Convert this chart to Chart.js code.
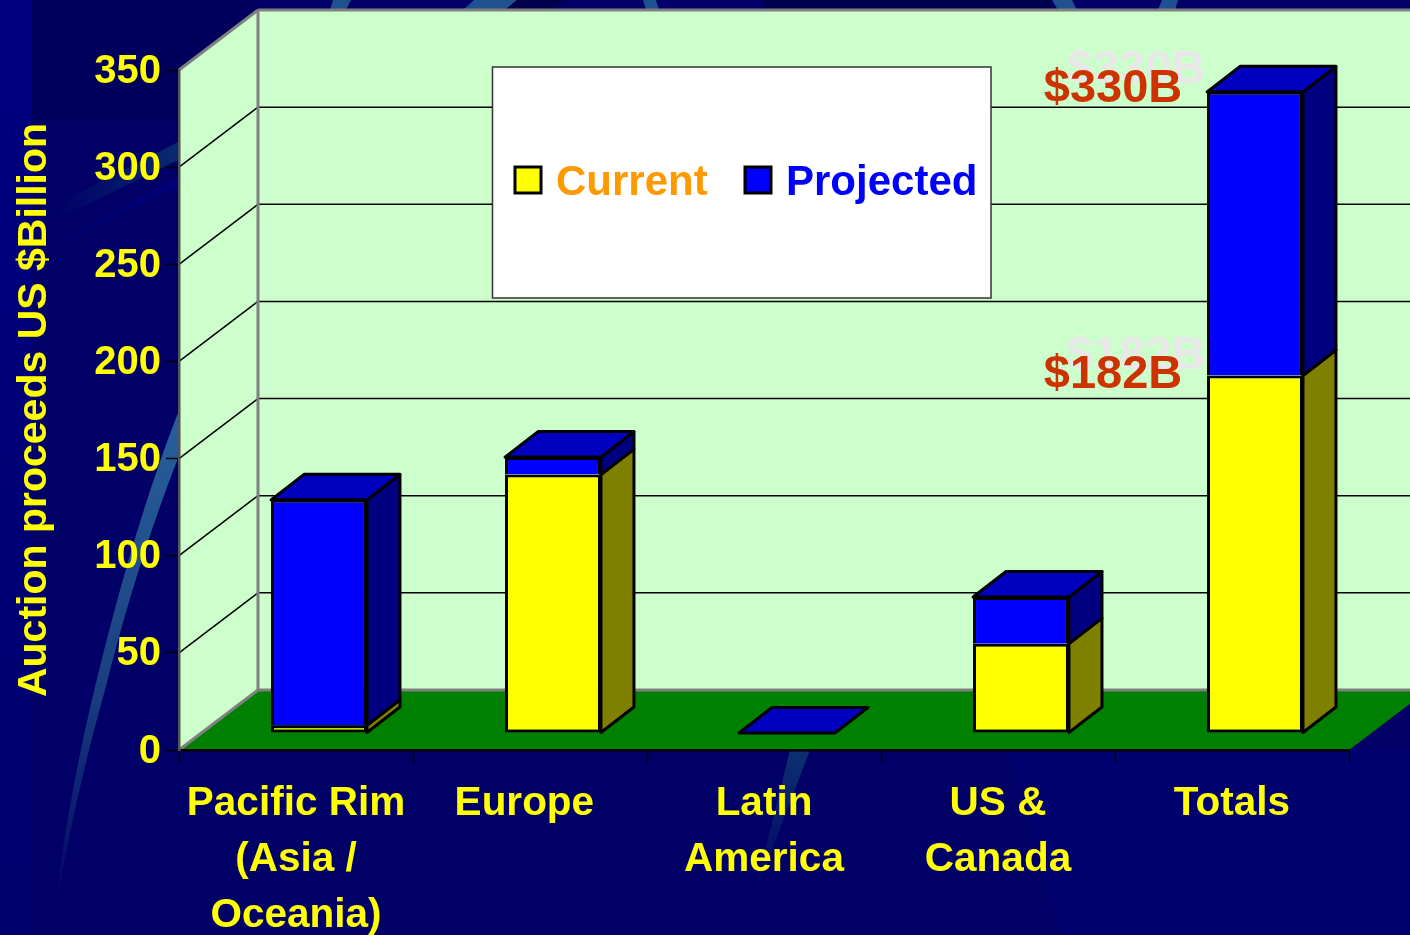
<!DOCTYPE html>
<html>
<head>
<meta charset="utf-8">
<title>Auction proceeds</title>
<script src="https://cdn.jsdelivr.net/npm/chart.js@4/dist/chart.umd.min.js"></script>
<style>
html, body { margin: 0; padding: 0; background: #000066; overflow: hidden; }
#fondo { position: absolute; left: 0; top: 0; }
#grafico { position: absolute; left: 0; top: 0; }
</style>
</head>
<body>
<!-- slide background, decoration only -->
<svg id="fondo" width="1410" height="935">
  <defs>
    <linearGradient id="curva" x1="0" y1="0" x2="0" y2="1">
      <stop offset="0" stop-color="#28609c"/>
      <stop offset="0.55" stop-color="#1a3f80"/>
      <stop offset="1" stop-color="#000066"/>
    </linearGradient>
    <linearGradient id="banda" x1="0" y1="0" x2="1" y2="0">
      <stop offset="0" stop-color="#000066"/>
      <stop offset="1" stop-color="#082a70"/>
    </linearGradient>
    <linearGradient id="abajo" x1="0" y1="0" x2="0" y2="1">
      <stop offset="0" stop-color="#0c3072"/>
      <stop offset="1" stop-color="#000066"/>
    </linearGradient>
    <linearGradient id="franja" x1="0" y1="0" x2="0" y2="1">
      <stop offset="0" stop-color="#000080"/>
      <stop offset="1" stop-color="#00006e"/>
    </linearGradient>
  </defs>
  <rect width="1410" height="935" fill="#000066"/>
  <rect width="32" height="935" fill="url(#franja)"/>
  <rect x="32" width="226" height="120" fill="#00005c"/>
  <rect x="764" width="288" height="10" fill="#000050"/>
  <polygon points="1008,750 1410,750 1410,935 1060,935" fill="#00006e"/>
  <polygon points="55,205 178,142 178,160 55,220" fill="url(#banda)"/>
  <polygon points="60,240 178,178 178,186 62,240" fill="#000078"/>
  <path d="M178,413 C140,510 110,620 85,730 C70,800 60,860 55,915 C65,850 85,760 105,690 C125,610 150,530 178,458 Z" fill="url(#curva)"/>
  <polygon points="333,0 351,0 346,10 330,10" fill="#1f5090"/>
  <polygon points="474,0 517,0 505,10 463,10" fill="#1f5090"/>
  <polygon points="517,0 566,0 550,10 505,10" fill="#00004c"/>
  <polygon points="643,0 656,0 659,10 646,10" fill="#1f5090"/>
  <polygon points="1052,0 1072,0 1077,10 1058,10" fill="#1f5090"/>
  <polygon points="1162,0 1178,0 1175,10 1158,10" fill="#1f5090"/>
  <polygon points="790,750 810,750 753,900" fill="url(#abajo)"/>
</svg>
<canvas id="grafico" width="1410" height="935"></canvas>
<script>
// Datos
const regiones = [['Pacific Rim', '(Asia /', 'Oceania)'], 'Europe ', ['Latin', 'America'], ['US &', 'Canada'], 'Totals'];
const actual = [4, 133, 0, 46, 184];
const proyectado = [116, 9, 0, 24, 146];
const nombresSeries = ['Current', 'Projected'];
const coloresLeyenda = ['#FF9900', '#0000FF'];
const textosTotales = ['$182B', '$330B'];

const AMARILLO = '#FFFF00';
const AZUL = '#0000FF';
const LATERALES = ['#808000', '#000080'];
const TECHO = '#0000C0';
const VERDE_PARED = '#CCFFCC';
const VERDE_PISO = '#008000';
const GRIS = '#808080';

// profundidad de la caja y de las barras
const cajaDx = 79, cajaDy = 60;
const barraDx = 23, barraDy = 17;
const fondoDx = 33, fondoDy = 25.5;
const BORDE = 3;

const familia = '"Liberation Sans", Arial, sans-serif';
const fuente = tam => 'bold ' + tam + 'px ' + familia;

function poligono(ctx, puntos, relleno, trazo, ancho) {
    ctx.beginPath();
    puntos.forEach((p, i) => i ? ctx.lineTo(p[0], p[1]) : ctx.moveTo(p[0], p[1]));
    ctx.closePath();
    if (relleno) { ctx.fillStyle = relleno; ctx.fill(); }
    if (trazo) { ctx.strokeStyle = trazo; ctx.lineWidth = ancho; ctx.stroke(); }
}

function linea(ctx, x1, y1, x2, y2, color, ancho) {
    ctx.beginPath();
    ctx.moveTo(x1, y1);
    ctx.lineTo(x2, y2);
    ctx.strokeStyle = color;
    ctx.lineWidth = ancho;
    ctx.stroke();
}

// Paredes y piso detras de todo
const pluginCaja = {
    id: 'caja',
    beforeDraw(chart) {
        const ctx = chart.ctx;
        const { left, right, top, bottom } = chart.chartArea;
        const escalaY = chart.scales.y;
        ctx.save();
        poligono(ctx, [[left + cajaDx, top - cajaDy], [right + cajaDx, top - cajaDy], [right + cajaDx, bottom - cajaDy], [left + cajaDx, bottom - cajaDy]], VERDE_PARED);
        poligono(ctx, [[left, bottom], [left + cajaDx, bottom - cajaDy], [left + cajaDx, top - cajaDy], [left, top]], VERDE_PARED);
        poligono(ctx, [[left, bottom], [left + cajaDx, bottom - cajaDy], [right + cajaDx, bottom - cajaDy], [right, bottom]], VERDE_PISO);
        escalaY.ticks.forEach(t => {
            if (t.value === escalaY.min || t.value === escalaY.max) return;
            const y = escalaY.getPixelForValue(t.value);
            linea(ctx, left, y, left + cajaDx, y - cajaDy, '#000', 1.5);
            linea(ctx, left + cajaDx, y - cajaDy, right + cajaDx, y - cajaDy, '#000', 1.5);
        });
        linea(ctx, left, top, left + cajaDx, top - cajaDy, GRIS, 3);
        linea(ctx, left + cajaDx, top - cajaDy, right + cajaDx, top - cajaDy, GRIS, 3);
        linea(ctx, left + cajaDx, top - cajaDy, left + cajaDx, bottom - cajaDy, GRIS, 3);
        linea(ctx, left + cajaDx, bottom - cajaDy, right + cajaDx, bottom - cajaDy, GRIS, 3);
        linea(ctx, left, bottom, left + cajaDx, bottom - cajaDy, GRIS, 3);
        ctx.restore();
    }
};

// Caras laterales y techo de cada barra; las barras se dibujan corridas hacia el fondo
const pluginBarras = {
    id: 'barras3d',
    beforeDatasetsDraw(chart) {
        const ctx = chart.ctx;
        ctx.save();
        ctx.translate(barraDx, -barraDy);
        ctx.lineJoin = 'round';
        chart.data.datasets.forEach((ds, d) => {
            chart.getDatasetMeta(d).data.forEach(el => {
                if (Math.abs(el.base - el.y) < 0.5) return;
                const xd = el.x + el.width / 2;
                poligono(ctx, [[xd, el.y], [xd + fondoDx, el.y - fondoDy], [xd + fondoDx, el.base - fondoDy], [xd, el.base]], LATERALES[d], '#000', BORDE);
            });
        });
        const ultima = chart.getDatasetMeta(chart.data.datasets.length - 1).data;
        ultima.forEach(el => {
            const xi = el.x - el.width / 2, xd = el.x + el.width / 2;
            poligono(ctx, [[xi, el.y], [xd, el.y], [xd + fondoDx, el.y - fondoDy], [xi + fondoDx, el.y - fondoDy]], TECHO, '#000', BORDE);
        });
    },
    afterDatasetsDraw(chart) {
        chart.ctx.restore();
    }
};

// Textos de los totales y cuadro de leyenda
const pluginTextos = {
    id: 'textos',
    afterDatasetsDraw(chart) {
        const ctx = chart.ctx;
        ctx.save();
        const barraTotal = regiones.length - 1;
        const ajusteY = [-0.5, -3];
        ctx.font = fuente(47);
        ctx.textAlign = 'center';
        ctx.textBaseline = 'middle';
        textosTotales.forEach((texto, d) => {
            const el = chart.getDatasetMeta(d).data[barraTotal];
            const x = el.x + barraDx - 142;
            const y = el.y - barraDy + ajusteY[d];
            ctx.fillStyle = '#E8E8E8';
            ctx.fillText(texto, x + 23, y - 19);
            ctx.fillStyle = '#CC3300';
            ctx.fillText(texto, x, y);
        });

        ctx.fillStyle = '#FFFFFF';
        ctx.fillRect(492.5, 67, 498.5, 231);
        ctx.strokeStyle = '#333333';
        ctx.lineWidth = 1.5;
        ctx.strokeRect(492.5, 67, 498.5, 231);
        const xCuadro = [515, 745];
        const xTexto = [556, 786];
        ctx.font = fuente(42);
        ctx.textAlign = 'left';
        ctx.textBaseline = 'alphabetic';
        chart.data.datasets.forEach((ds, d) => {
            ctx.fillStyle = ds.backgroundColor;
            ctx.fillRect(xCuadro[d], 167, 26, 26);
            ctx.strokeStyle = '#000';
            ctx.lineWidth = BORDE;
            ctx.strokeRect(xCuadro[d], 167, 26, 26);
            ctx.fillStyle = coloresLeyenda[d];
            ctx.fillText(ds.label, xTexto[d], 195);
        });
        ctx.restore();
    }
};

new Chart(document.getElementById('grafico'), {
    type: 'bar',
    data: {
        labels: regiones,
        datasets: [
            { label: nombresSeries[0], data: actual, backgroundColor: AMARILLO, borderColor: '#000', borderWidth: BORDE, borderSkipped: false, clip: false },
            { label: nombresSeries[1], data: proyectado, backgroundColor: AZUL, borderColor: '#000', borderWidth: BORDE, borderSkipped: 'bottom', clip: false }
        ]
    },
    plugins: [pluginCaja, pluginBarras, pluginTextos],
    options: {
        responsive: false,
        animation: false,
        categoryPercentage: 0.41,
        barPercentage: 1,
        layout: { padding: { left: 0, top: 70, right: 61, bottom: 0 } },
        plugins: { legend: { display: false }, tooltip: { enabled: false } },
        scales: {
            x: {
                stacked: true,
                afterFit(escala) { escala.height = 185; },
                grid: { drawOnChartArea: false, tickLength: 13, tickColor: '#000', tickWidth: 1.5 },
                border: { color: '#000', width: 2.5 },
                ticks: { color: AMARILLO, font: { family: familia, size: 40.5, weight: 'bold', lineHeight: 1.383 }, padding: 13, autoSkip: false, maxRotation: 0 }
            },
            y: {
                stacked: true,
                min: 0,
                max: 350,
                afterFit(escala) { escala.width = 179; },
                grid: { drawOnChartArea: false, tickLength: 13, tickColor: '#000', tickWidth: 1.5 },
                border: { color: '#555555', width: 2.5 },
                ticks: { stepSize: 50, color: AMARILLO, font: { family: familia, size: 40, weight: 'bold' }, padding: 5, labelOffset: 1.5 },
                title: { display: true, text: 'Auction proceeds US $Billion', color: AMARILLO, font: { family: familia, size: 41, weight: 'bold' }, padding: { top: 10, bottom: 0 } }
            }
        }
    }
});
</script>
</body>
</html>
